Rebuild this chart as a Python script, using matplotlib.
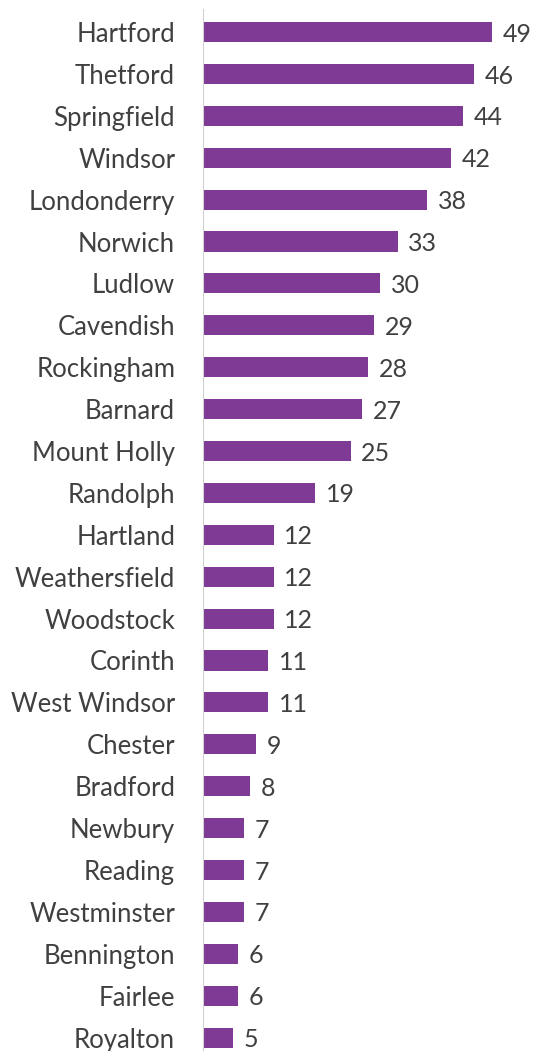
import matplotlib
matplotlib.use("Agg")
import matplotlib.pyplot as plt

towns = ["Hartford", "Thetford", "Springfield", "Windsor", "Londonderry", "Norwich",
         "Ludlow", "Cavendish", "Rockingham", "Barnard", "Mount Holly", "Randolph",
         "Hartland", "Weathersfield", "Woodstock", "Corinth", "West Windsor", "Chester",
         "Bradford", "Newbury", "Reading", "Westminster", "Bennington", "Fairlee", "Royalton"]
counts = [49, 46, 44, 42, 38, 33, 30, 29, 28, 27, 25, 19, 12, 12, 12, 11, 11, 9, 8, 7, 7, 7, 6, 6, 5]

plt.rcParams['font.family'] = ['Lato', 'DejaVu Sans']

fig = plt.figure(figsize=(5.37, 10.51), dpi=100)
ax = fig.add_axes([203/537, 0, 334/537, 1])

pos = list(range(len(towns)))
ax.barh(pos, counts, height=0.48, color="#7e3a94")

for p, c in zip(pos, counts):
    ax.text(c + 1.8, p + 0.05, str(c), va="center", ha="left", fontsize=18, color="#404040")

ax.set_xlim(0, 56.6)
ax.set_ylim(24.32, -0.764)
ax.set_yticks(pos)
ax.set_yticklabels(towns, fontsize=18.5, color="#404040")
ax.tick_params(axis="y", length=0, pad=20)
ax.set_xticks([])
for s in ["top", "right", "bottom"]:
    ax.spines[s].set_visible(False)
ax.spines["left"].set_color("#d0d0d0")
ax.spines["left"].set_bounds(-0.55, 24.32)

fig.savefig("out.png", dpi=100)
